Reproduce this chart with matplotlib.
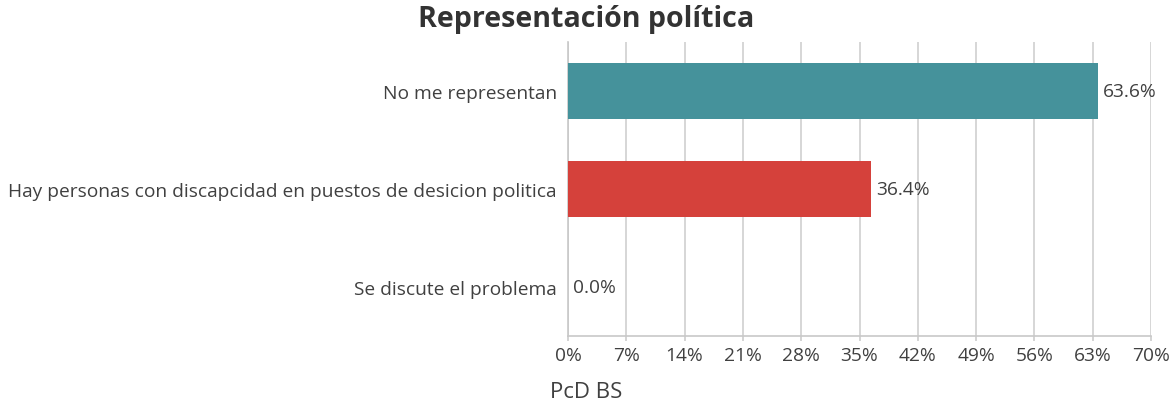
import matplotlib
matplotlib.use("Agg")
import matplotlib.pyplot as plt
from matplotlib.ticker import FixedLocator

categories = ["No me representan",
              "Hay personas con discapcidad en puestos de desicion politica",
              "Se discute el problema"]
values = [63.6, 36.4, 0.0]
colors = ["#45929B", "#D5413B", "#888888"]
xticks = [0, 7, 14, 21, 28, 35, 42, 49, 56, 63, 70]
title = "Representación política"
xlabel = "PcD BS"

plt.rcParams['font.family'] = ['Open Sans', 'DejaVu Sans']
text_color = "#404040"
fs = 13.8

fig = plt.figure(figsize=(11.73, 4.06), dpi=100)
ax = fig.add_axes([568 / 1173, 1 - 337 / 406, (1151 - 568) / 1173, (337 - 43) / 406])

y = list(range(len(categories)))
ax.barh(y, values, height=0.58, color=colors, zorder=3)
ax.set_ylim(len(categories) - 0.5, -0.5)
ax.set_xlim(0, 70)
ax.set_yticks(y)
ax.set_yticklabels(categories, fontsize=fs, color=text_color)
ax.xaxis.set_major_locator(FixedLocator(xticks))
ax.set_xticklabels([f"{t}%" for t in xticks], fontsize=fs, color=text_color)
ax.tick_params(axis='y', length=0, pad=8)
ax.tick_params(axis='x', length=3.6, width=1.2, color="#cccccc", pad=3.5)
ax.grid(axis='x', color="#d0d0d0", linewidth=1.2, zorder=0)
for s in ["top", "right"]:
    ax.spines[s].set_visible(False)
ax.spines["left"].set_color("#c8c8c8")
ax.spines["bottom"].set_color("#c8c8c8")
ax.spines["left"].set_linewidth(1.2)
ax.spines["bottom"].set_linewidth(1.2)

for yi, v in zip(y, values):
    ax.text(v + 0.65, yi, f"{v:.1f}%", va="center", ha="left",
            fontsize=fs, color=text_color, zorder=4)

fig.text(0.5, 1 - 19 / 406, title, ha="center", va="center", fontsize=20.6,
         fontweight="bold", color="#333333")
fig.text(550 / 1173, 1 - 393 / 406, xlabel, ha="left", va="center",
         fontsize=16, color=text_color)

fig.savefig("out.png", dpi=100)
